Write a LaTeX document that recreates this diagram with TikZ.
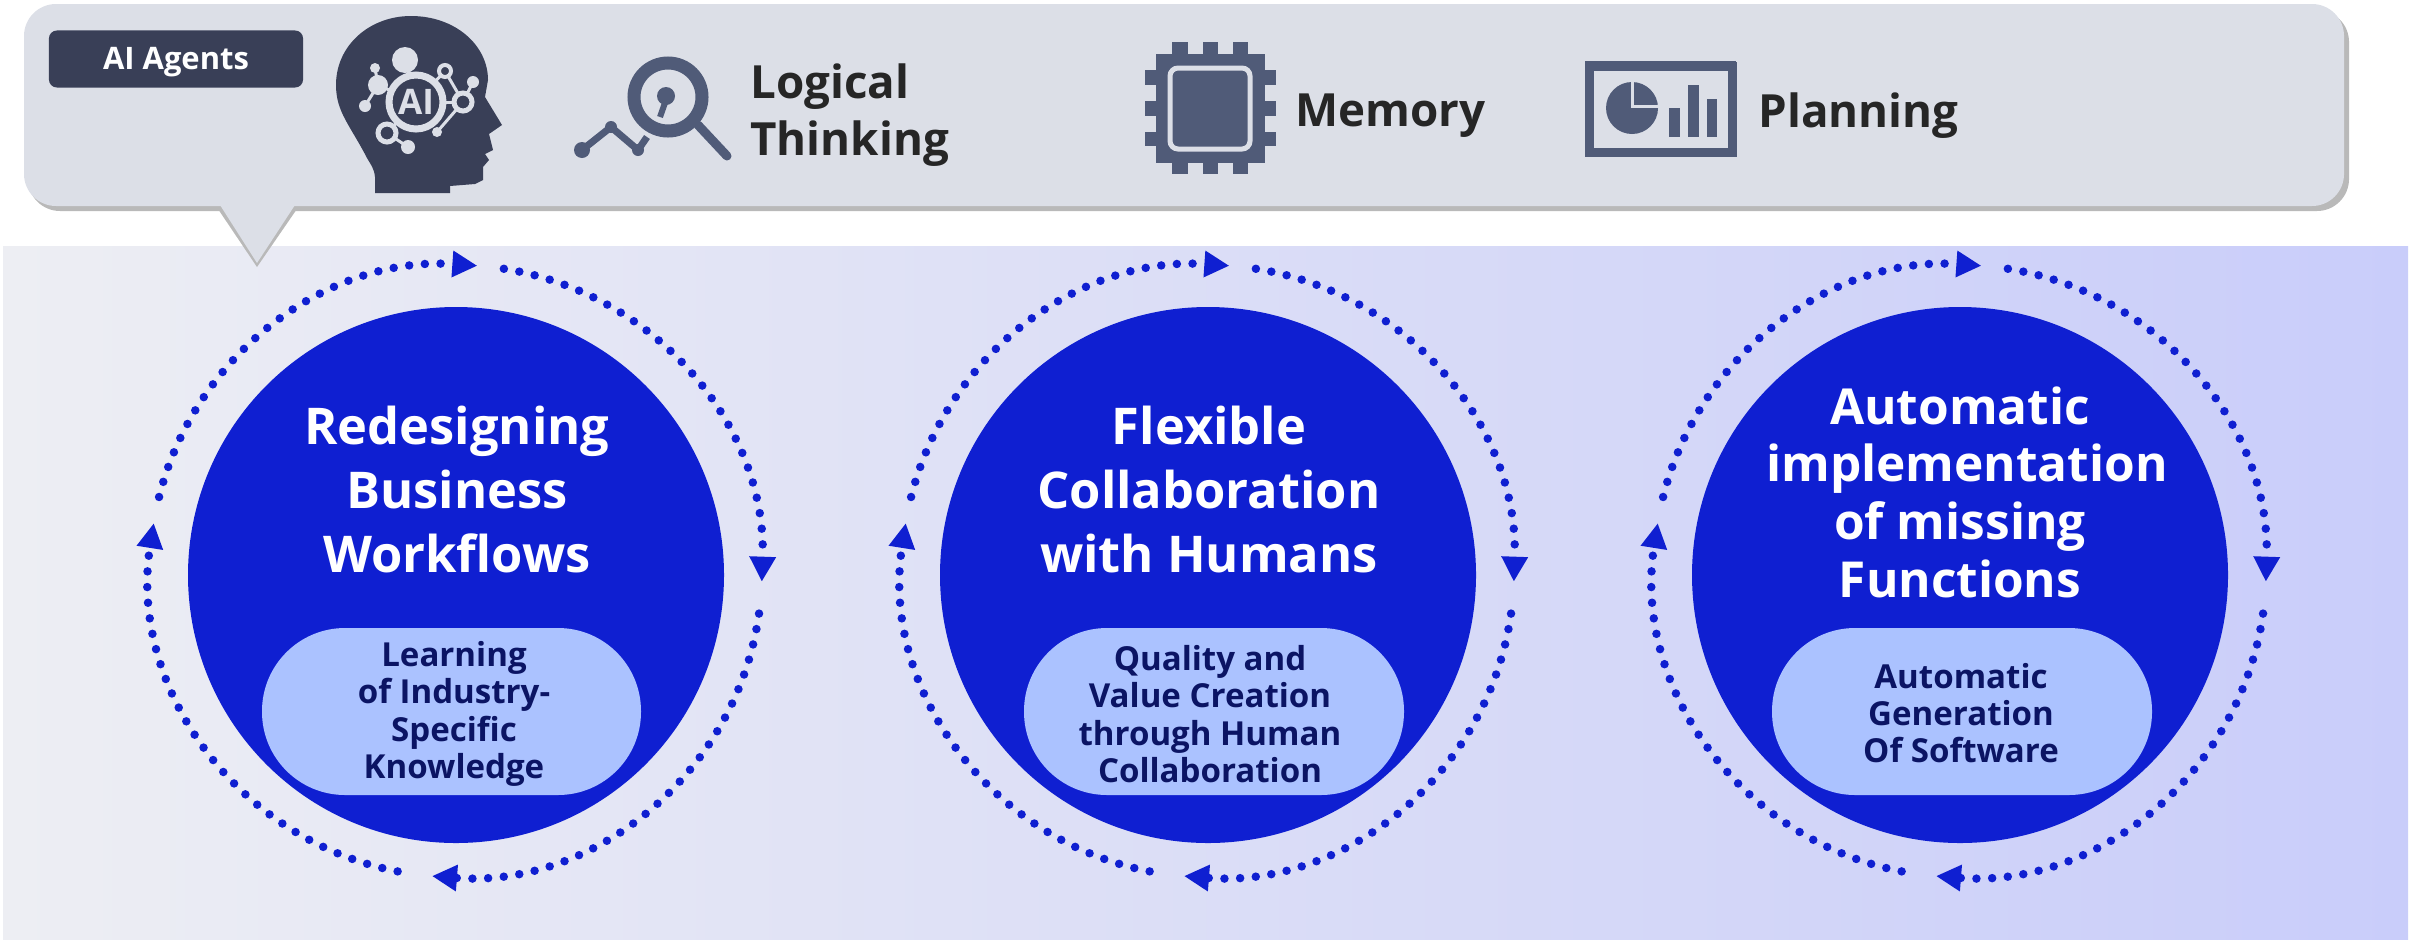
\documentclass[tikz,border=0pt]{standalone}
\usepackage{fontspec}
\setmainfont{Open Sans}
\usetikzlibrary{arrows.meta}
\definecolor{panelgray}{HTML}{DCDFE7}
\definecolor{shadowgray}{HTML}{B9B9B9}
\definecolor{darkslate}{HTML}{393F57}
\definecolor{iconslate}{HTML}{505B78}
\definecolor{inktext}{HTML}{262626}
\definecolor{discblue}{HTML}{0F1FD1}
\definecolor{pillblue}{HTML}{ABC2FF}
\definecolor{pillink}{HTML}{0B1464}
\definecolor{bgleft}{HTML}{EDEEF3}
\definecolor{bgright}{HTML}{C9CDFA}

\begin{document}
\begin{tikzpicture}[x=0.01cm,y=-0.01cm,
		orbit/.style={draw=discblue, line width=0.085cm, line cap=round, dash pattern=on 0pt off 0.157cm, -{Triangle[length=0.25cm,width=0.25cm]}},
		headtext/.style={font=\bfseries\fontsize{14.4}{18.2}\selectfont, text=white, align=center},
		pilltext/.style={font=\bfseries\fontsize{9.4}{10.6}\selectfont, text=pillink, align=center},
		icontext/.style={font=\bfseries\fontsize{13}{16}\selectfont, text=inktext, align=left, anchor=west},
		pill/.style={fill=pillblue, rounded corners=0.83cm},
		netlink/.style={draw=panelgray, line width=0.03cm}]
		\useasboundingbox (0,0) rectangle (2422,939);
		%Background
		\fill [left color=bgleft, right color=bgright] (3,246) rectangle (2408,939);
		%Speech bubble with its shadow
		\fill [shadowgray, rounded corners=0.32cm] (28,10) rectangle (2349,211);
		\fill [shadowgray] (216,206) -- (257,267) -- (299,206) -- cycle;
		\fill [panelgray, rounded corners=0.32cm] (24,4) rectangle (2344,206);
		\fill [panelgray] (220,205) -- (257,263) -- (295,205) -- cycle;
		\node (agents) [fill=darkslate, text=white, rounded corners=0.08cm, minimum width=2.54cm, minimum height=0.57cm, inner sep=0pt, font=\bfseries\fontsize{8.8}{10}\selectfont, text depth=0.02cm] at (176,59) {AI Agents};
		%Head
		\fill [darkslate] (375,193) -- (375,177) .. controls (374,168) and (371,165) .. (367,158) .. controls (350,125) and (336,112) .. (336,85) .. controls (336,45) and (370,16) .. (411,16) .. controls (455,16) and (488,45) .. (488,80) -- (485,97) -- (502,125) -- (489,134) -- (493,150) -- (485,154) -- (489,160) -- (483,167) -- (483,180) -- (475,184) -- (450,186) -- (450,193) -- cycle;
		\draw [netlink] (416,102) -- (405,60);
		\draw [netlink] (378,85) -- (375,68);
		\draw [netlink] (378,85) -- (365,106);
		\draw [netlink] (378,85) -- (416,102);
		\draw [netlink] (387,133) -- (408,147);
		\draw [netlink] (387,133) -- (416,102);
		\draw [netlink] (445,71) -- (463,102);
		\draw [netlink] (445,71) -- (416,102);
		\draw [netlink] (463,102) -- (473,82);
		\draw [netlink] (463,102) -- (437,132);
		\draw [netlink] (463,102) -- (416,102);
		\fill [darkslate] (416,102) circle (27);
		\draw [panelgray, line width=0.07cm] (416,102) circle (27);
		\fill [panelgray] (405,60) circle (13);
		\fill [panelgray] (375,68) circle (5);
		\fill [panelgray] (378,85) circle (10);
		\fill [panelgray] (365,106) circle (6);
		\fill [panelgray] (408,147) circle (7);
		\fill [panelgray] (437,132) circle (5);
		\fill [panelgray] (473,82) circle (6);
		\draw [panelgray, line width=0.05cm, fill=darkslate] (387,133) circle (9);
		\draw [panelgray, line width=0.05cm, fill=darkslate] (463,102) circle (9);
		\draw [panelgray, line width=0.04cm, fill=darkslate] (445,71) circle (6);
		\node (ailabel) [text=panelgray, font=\bfseries\fontsize{10}{10}\selectfont, inner sep=0pt] at (416,102) {AI};
		%Magnifier
		\draw [iconslate, line width=0.13cm] (668,97) circle (34);
		\draw [iconslate, line width=0.09cm, line cap=round] (698,125) -- (727,156);
		\draw [iconslate, line width=0.07cm, line join=round] (582,150) -- (611,127) -- (638,150) -- (647,137);
		\fill [iconslate] (582,150) circle (8);
		\fill [iconslate] (611,127) circle (6);
		\fill [iconslate] (638,150) circle (6);
		\fill [iconslate] (666,96) circle (9);
		\draw [iconslate, line width=0.06cm] (666,100) -- (660,117);
		\node (logic) [icontext, text width=2.2cm] at (738,115) {Logical\\Thinking};
		%Chip
		\fill [iconslate] (1172,42) rectangle (1188,174);
		\fill [iconslate] (1203,42) rectangle (1218,174);
		\fill [iconslate] (1233,42) rectangle (1248,174);
		\fill [iconslate] (1145,70) rectangle (1276,85);
		\fill [iconslate] (1145,101) rectangle (1276,116);
		\fill [iconslate] (1145,132) rectangle (1276,146);
		\fill [iconslate] (1156,54) rectangle (1265,163);
		\draw [panelgray, line width=0.05cm, rounded corners=0.08cm] (1170,68) rectangle (1250,149);
		\node (memory) [icontext] at (1283,116) {Memory};
		%Board with pie and bars
		\draw [iconslate, line width=0.09cm, fill=panelgray] (1589,66) rectangle (1732,152);
		\fill [iconslate] (1585,61) rectangle (1736,71);
		\fill [iconslate] (1632,108) circle (26);
		\draw [panelgray, line width=0.03cm] (1632,80) -- (1632,106) -- (1660,106);
		\fill [iconslate] (1669,108) rectangle (1680,137);
		\fill [iconslate] (1688,85) rectangle (1699,137);
		\fill [iconslate] (1707,99) rectangle (1717,137);
		\node (plan) [icontext] at (1746,116) {Planning};
		%First disc
		\fill [discblue] (456,575) circle (268);
		\node (disc1) [headtext] at (457,489) {Redesigning\\Business\hspace{0.14cm}\\Workflows};
		\fill [pill] (262,628) rectangle (641,795);
		\node (sub1) [pilltext] at (454,714) {Learning\\of Industry-\\Specific\\Knowledge};
		\draw [orbit] (456,571) ++(-166:306) arc (-166:-86:306);
		\draw [orbit] (456,571) ++(-81:306) arc (-81:2:306);
		\draw [orbit] (456,571) ++(8:306) arc (8:94.5:306);
		\draw [orbit] (456,571) ++(101:306) arc (101:189:306);
		%Second disc
		\fill [discblue] (1208,575) circle (268);
		\node (disc2) [headtext] at (1209,489) {Flexible\hspace{0.14cm}\\Collaboration\\with Humans};
		\fill [pill] (1024,628) rectangle (1404,795);
		\node (sub2) [pilltext] at (1210,714) {Quality and\\Value Creation\\through Human\\Collaboration};
		\draw [orbit] (1208,571) ++(-166:306) arc (-166:-86:306);
		\draw [orbit] (1208,571) ++(-81:306) arc (-81:2:306);
		\draw [orbit] (1208,571) ++(8:306) arc (8:94.5:306);
		\draw [orbit] (1208,571) ++(101:306) arc (101:189:306);
		%Third disc
		\fill [discblue] (1960,575) circle (268);
		\node (disc3) [headtext, font=\bfseries\fontsize{14.1}{16.4}\selectfont] at (1960,492) {Automatic\\\hspace{0.14cm}implementation\\of missing\hspace{0.16cm}\\Functions};
		\fill [pill] (1772,628) rectangle (2152,795);
		\node (sub3) [pilltext] at (1961,713) {Automatic\\Generation\\Of Software};
		\draw [orbit] (1960,571) ++(-166:306) arc (-166:-86:306);
		\draw [orbit] (1960,571) ++(-81:306) arc (-81:2:306);
		\draw [orbit] (1960,571) ++(8:306) arc (8:94.5:306);
		\draw [orbit] (1960,571) ++(101:306) arc (101:189:306);
	\end{tikzpicture}
\end{document}
